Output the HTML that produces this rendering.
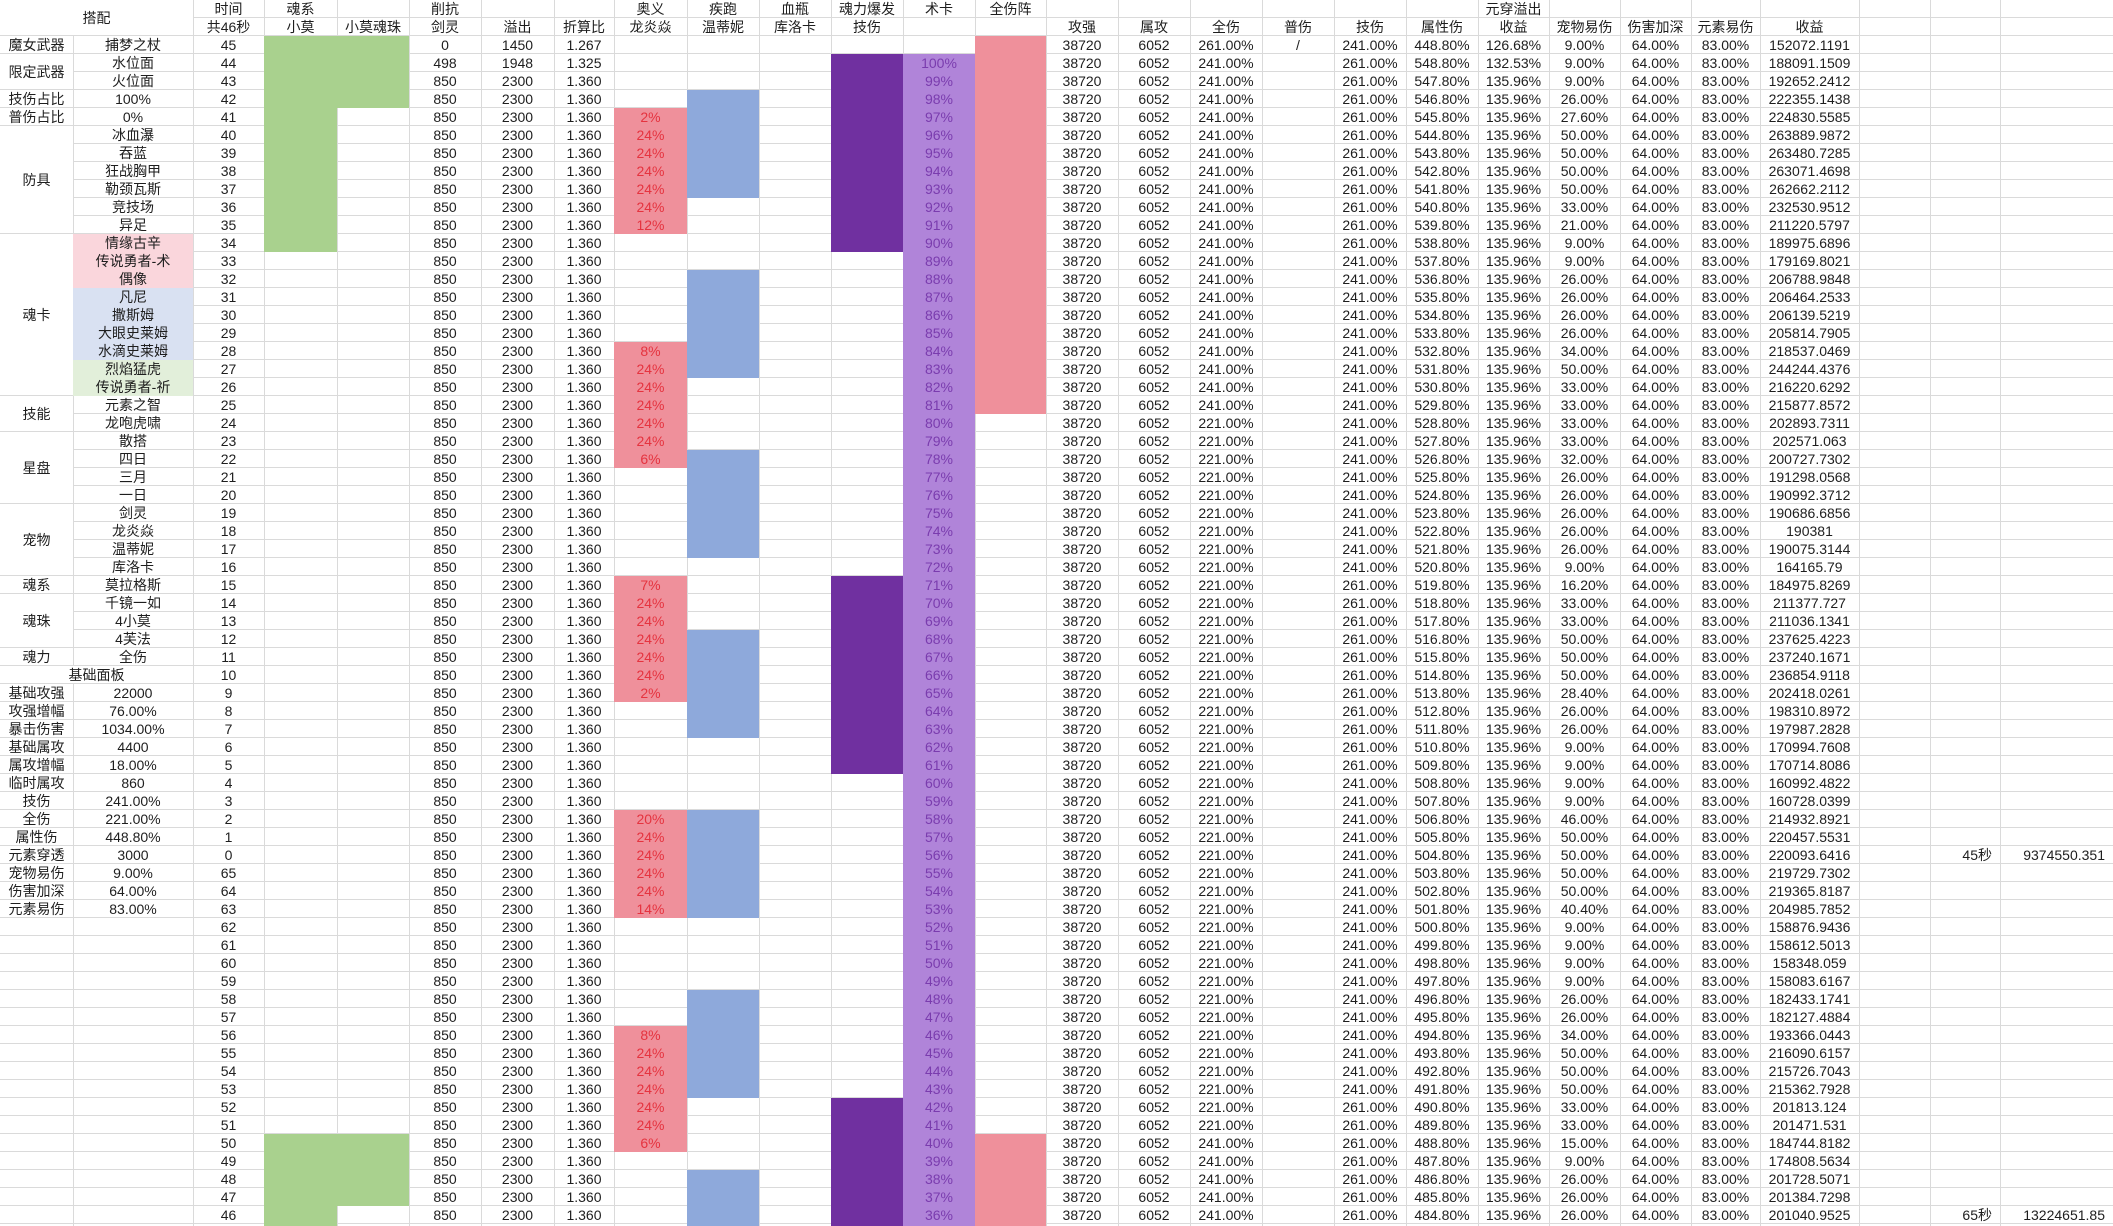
<!DOCTYPE html>
<html><head><meta charset="utf-8">
<style>
html,body{margin:0;padding:0;background:#fff}
#c{position:relative;width:2113px;height:1226px;overflow:hidden;background:#fff;
background-image:repeating-linear-gradient(to bottom,transparent 0,transparent 17px,#dadada 17px,#dadada 18px);
font-family:"Liberation Sans","Noto Sans CJK SC",sans-serif;font-size:14px;color:#1e1e1e}
.v{position:absolute;top:0;width:1px;height:1226px;background:#dadada;z-index:0}
.o{position:absolute;z-index:1}
.w{background:#fff;display:flex;align-items:center;justify-content:center}
table{position:absolute;left:0;top:0;z-index:2;border-spacing:0;border-collapse:separate;table-layout:fixed;width:2113px}
td{height:18px;padding:0;line-height:18px;text-align:center;white-space:nowrap;overflow:hidden}
td.r{color:#e5333f}
td.p{color:#7a3cae}
.rt{text-align:right;padding-right:8px}
</style></head><body>
<div id="c">
<div class="v" style="left:73px"></div><div class="v" style="left:193px"></div><div class="v" style="left:264px"></div><div class="v" style="left:337px"></div><div class="v" style="left:409px"></div><div class="v" style="left:481px"></div><div class="v" style="left:554px"></div><div class="v" style="left:614px"></div><div class="v" style="left:687px"></div><div class="v" style="left:759px"></div><div class="v" style="left:831px"></div><div class="v" style="left:903px"></div><div class="v" style="left:975px"></div><div class="v" style="left:1046px"></div><div class="v" style="left:1118px"></div><div class="v" style="left:1190px"></div><div class="v" style="left:1262px"></div><div class="v" style="left:1334px"></div><div class="v" style="left:1406px"></div><div class="v" style="left:1478px"></div><div class="v" style="left:1549px"></div><div class="v" style="left:1620px"></div><div class="v" style="left:1691px"></div><div class="v" style="left:1760px"></div><div class="v" style="left:1859px"></div><div class="v" style="left:1930px"></div><div class="v" style="left:2000px"></div>

<div class="o w" style="left:0;top:0;width:193px;height:35px">搭配</div>
<div class="o w" style="left:0;top:54px;width:73px;height:35px">限定武器</div>
<div class="o w" style="left:0;top:126px;width:73px;height:107px">防具</div>
<div class="o w" style="left:0;top:234px;width:73px;height:161px">魂卡</div>
<div class="o w" style="left:0;top:396px;width:73px;height:35px">技能</div>
<div class="o w" style="left:0;top:432px;width:73px;height:71px">星盘</div>
<div class="o w" style="left:0;top:504px;width:73px;height:71px">宠物</div>
<div class="o w" style="left:0;top:594px;width:73px;height:53px">魂珠</div>
<div class="o w" style="left:0;top:666px;width:193px;height:17px">基础面板</div>

<div class="o" style="left:73px;top:234px;width:120px;height:54px;background:#fad6dc"></div>
<div class="o" style="left:73px;top:288px;width:120px;height:72px;background:#d9e1f2"></div>
<div class="o" style="left:73px;top:360px;width:120px;height:36px;background:#e2efda"></div>

<div class="o" style="left:264px;top:36px;width:73px;height:216px;background:#a9d18e"></div>
<div class="o" style="left:337px;top:36px;width:72px;height:72px;background:#a9d18e"></div>
<div class="o" style="left:264px;top:1134px;width:73px;height:92px;background:#a9d18e"></div>
<div class="o" style="left:337px;top:1134px;width:72px;height:72px;background:#a9d18e"></div>

<div class="o" style="left:614px;top:108px;width:73px;height:126px;background:#ef909b"></div>
<div class="o" style="left:614px;top:342px;width:73px;height:126px;background:#ef909b"></div>
<div class="o" style="left:614px;top:576px;width:73px;height:126px;background:#ef909b"></div>
<div class="o" style="left:614px;top:810px;width:73px;height:108px;background:#ef909b"></div>
<div class="o" style="left:614px;top:1026px;width:73px;height:126px;background:#ef909b"></div>

<div class="o" style="left:687px;top:90px;width:72px;height:108px;background:#8ea9db"></div>
<div class="o" style="left:687px;top:270px;width:72px;height:108px;background:#8ea9db"></div>
<div class="o" style="left:687px;top:450px;width:72px;height:108px;background:#8ea9db"></div>
<div class="o" style="left:687px;top:630px;width:72px;height:108px;background:#8ea9db"></div>
<div class="o" style="left:687px;top:810px;width:72px;height:108px;background:#8ea9db"></div>
<div class="o" style="left:687px;top:990px;width:72px;height:108px;background:#8ea9db"></div>
<div class="o" style="left:687px;top:1170px;width:72px;height:56px;background:#8ea9db"></div>

<div class="o" style="left:831px;top:54px;width:72px;height:198px;background:#7030a0"></div>
<div class="o" style="left:831px;top:576px;width:72px;height:198px;background:#7030a0"></div>
<div class="o" style="left:831px;top:1098px;width:72px;height:128px;background:#7030a0"></div>

<div class="o" style="left:903px;top:54px;width:72px;height:1172px;background:#b084d9"></div>

<div class="o" style="left:975px;top:36px;width:71px;height:378px;background:#ef909b"></div>
<div class="o" style="left:975px;top:1134px;width:71px;height:92px;background:#ef909b"></div>

<table>
<colgroup><col style="width:73px"><col style="width:120px"><col style="width:71px"><col style="width:73px"><col style="width:72px"><col style="width:72px"><col style="width:73px"><col style="width:60px"><col style="width:73px"><col style="width:72px"><col style="width:72px"><col style="width:72px"><col style="width:72px"><col style="width:71px"><col style="width:72px"><col style="width:72px"><col style="width:72px"><col style="width:72px"><col style="width:72px"><col style="width:72px"><col style="width:71px"><col style="width:71px"><col style="width:71px"><col style="width:69px"><col style="width:99px"><col style="width:71px"><col style="width:70px"><col style="width:113px"></colgroup>
<tr><td><td><td>时间<td>魂系<td><td>削抗<td><td><td>奥义<td>疾跑<td>血瓶<td>魂力爆发<td>术卡<td>全伤阵<td><td><td><td><td><td><td>元穿溢出<td><td><td><td><td><td><td>
<tr><td><td><td>共46秒<td>小莫<td>小莫魂珠<td>剑灵<td>溢出<td>折算比<td>龙炎焱<td>温蒂妮<td>库洛卡<td>技伤<td><td><td>攻强<td>属攻<td>全伤<td>普伤<td>技伤<td>属性伤<td>收益<td>宠物易伤<td>伤害加深<td>元素易伤<td>收益<td><td><td>
<tr><td>魔女武器<td>捕梦之杖<td>45<td><td><td>0<td>1450<td>1.267<td class=r><td><td><td><td class=p><td><td>38720<td>6052<td>261.00%<td>/<td>241.00%<td>448.80%<td>126.68%<td>9.00%<td>64.00%<td>83.00%<td>152072.1191<td><td><td>
<tr><td><td>水位面<td>44<td><td><td>498<td>1948<td>1.325<td class=r><td><td><td><td class=p>100%<td><td>38720<td>6052<td>241.00%<td><td>261.00%<td>548.80%<td>132.53%<td>9.00%<td>64.00%<td>83.00%<td>188091.1509<td><td><td>
<tr><td><td>火位面<td>43<td><td><td>850<td>2300<td>1.360<td class=r><td><td><td><td class=p>99%<td><td>38720<td>6052<td>241.00%<td><td>261.00%<td>547.80%<td>135.96%<td>9.00%<td>64.00%<td>83.00%<td>192652.2412<td><td><td>
<tr><td>技伤占比<td>100%<td>42<td><td><td>850<td>2300<td>1.360<td class=r><td><td><td><td class=p>98%<td><td>38720<td>6052<td>241.00%<td><td>261.00%<td>546.80%<td>135.96%<td>26.00%<td>64.00%<td>83.00%<td>222355.1438<td><td><td>
<tr><td>普伤占比<td>0%<td>41<td><td><td>850<td>2300<td>1.360<td class=r>2%<td><td><td><td class=p>97%<td><td>38720<td>6052<td>241.00%<td><td>261.00%<td>545.80%<td>135.96%<td>27.60%<td>64.00%<td>83.00%<td>224830.5585<td><td><td>
<tr><td><td>冰血瀑<td>40<td><td><td>850<td>2300<td>1.360<td class=r>24%<td><td><td><td class=p>96%<td><td>38720<td>6052<td>241.00%<td><td>261.00%<td>544.80%<td>135.96%<td>50.00%<td>64.00%<td>83.00%<td>263889.9872<td><td><td>
<tr><td><td>吞蓝<td>39<td><td><td>850<td>2300<td>1.360<td class=r>24%<td><td><td><td class=p>95%<td><td>38720<td>6052<td>241.00%<td><td>261.00%<td>543.80%<td>135.96%<td>50.00%<td>64.00%<td>83.00%<td>263480.7285<td><td><td>
<tr><td><td>狂战胸甲<td>38<td><td><td>850<td>2300<td>1.360<td class=r>24%<td><td><td><td class=p>94%<td><td>38720<td>6052<td>241.00%<td><td>261.00%<td>542.80%<td>135.96%<td>50.00%<td>64.00%<td>83.00%<td>263071.4698<td><td><td>
<tr><td><td>勒颈瓦斯<td>37<td><td><td>850<td>2300<td>1.360<td class=r>24%<td><td><td><td class=p>93%<td><td>38720<td>6052<td>241.00%<td><td>261.00%<td>541.80%<td>135.96%<td>50.00%<td>64.00%<td>83.00%<td>262662.2112<td><td><td>
<tr><td><td>竞技场<td>36<td><td><td>850<td>2300<td>1.360<td class=r>24%<td><td><td><td class=p>92%<td><td>38720<td>6052<td>241.00%<td><td>261.00%<td>540.80%<td>135.96%<td>33.00%<td>64.00%<td>83.00%<td>232530.9512<td><td><td>
<tr><td><td>异足<td>35<td><td><td>850<td>2300<td>1.360<td class=r>12%<td><td><td><td class=p>91%<td><td>38720<td>6052<td>241.00%<td><td>261.00%<td>539.80%<td>135.96%<td>21.00%<td>64.00%<td>83.00%<td>211220.5797<td><td><td>
<tr><td><td>情缘古辛<td>34<td><td><td>850<td>2300<td>1.360<td class=r><td><td><td><td class=p>90%<td><td>38720<td>6052<td>241.00%<td><td>261.00%<td>538.80%<td>135.96%<td>9.00%<td>64.00%<td>83.00%<td>189975.6896<td><td><td>
<tr><td><td>传说勇者-术<td>33<td><td><td>850<td>2300<td>1.360<td class=r><td><td><td><td class=p>89%<td><td>38720<td>6052<td>241.00%<td><td>241.00%<td>537.80%<td>135.96%<td>9.00%<td>64.00%<td>83.00%<td>179169.8021<td><td><td>
<tr><td><td>偶像<td>32<td><td><td>850<td>2300<td>1.360<td class=r><td><td><td><td class=p>88%<td><td>38720<td>6052<td>241.00%<td><td>241.00%<td>536.80%<td>135.96%<td>26.00%<td>64.00%<td>83.00%<td>206788.9848<td><td><td>
<tr><td><td>凡尼<td>31<td><td><td>850<td>2300<td>1.360<td class=r><td><td><td><td class=p>87%<td><td>38720<td>6052<td>241.00%<td><td>241.00%<td>535.80%<td>135.96%<td>26.00%<td>64.00%<td>83.00%<td>206464.2533<td><td><td>
<tr><td><td>撒斯姆<td>30<td><td><td>850<td>2300<td>1.360<td class=r><td><td><td><td class=p>86%<td><td>38720<td>6052<td>241.00%<td><td>241.00%<td>534.80%<td>135.96%<td>26.00%<td>64.00%<td>83.00%<td>206139.5219<td><td><td>
<tr><td><td>大眼史莱姆<td>29<td><td><td>850<td>2300<td>1.360<td class=r><td><td><td><td class=p>85%<td><td>38720<td>6052<td>241.00%<td><td>241.00%<td>533.80%<td>135.96%<td>26.00%<td>64.00%<td>83.00%<td>205814.7905<td><td><td>
<tr><td><td>水滴史莱姆<td>28<td><td><td>850<td>2300<td>1.360<td class=r>8%<td><td><td><td class=p>84%<td><td>38720<td>6052<td>241.00%<td><td>241.00%<td>532.80%<td>135.96%<td>34.00%<td>64.00%<td>83.00%<td>218537.0469<td><td><td>
<tr><td><td>烈焰猛虎<td>27<td><td><td>850<td>2300<td>1.360<td class=r>24%<td><td><td><td class=p>83%<td><td>38720<td>6052<td>241.00%<td><td>241.00%<td>531.80%<td>135.96%<td>50.00%<td>64.00%<td>83.00%<td>244244.4376<td><td><td>
<tr><td><td>传说勇者-祈<td>26<td><td><td>850<td>2300<td>1.360<td class=r>24%<td><td><td><td class=p>82%<td><td>38720<td>6052<td>241.00%<td><td>241.00%<td>530.80%<td>135.96%<td>33.00%<td>64.00%<td>83.00%<td>216220.6292<td><td><td>
<tr><td><td>元素之智<td>25<td><td><td>850<td>2300<td>1.360<td class=r>24%<td><td><td><td class=p>81%<td><td>38720<td>6052<td>241.00%<td><td>241.00%<td>529.80%<td>135.96%<td>33.00%<td>64.00%<td>83.00%<td>215877.8572<td><td><td>
<tr><td><td>龙咆虎啸<td>24<td><td><td>850<td>2300<td>1.360<td class=r>24%<td><td><td><td class=p>80%<td><td>38720<td>6052<td>221.00%<td><td>241.00%<td>528.80%<td>135.96%<td>33.00%<td>64.00%<td>83.00%<td>202893.7311<td><td><td>
<tr><td><td>散搭<td>23<td><td><td>850<td>2300<td>1.360<td class=r>24%<td><td><td><td class=p>79%<td><td>38720<td>6052<td>221.00%<td><td>241.00%<td>527.80%<td>135.96%<td>33.00%<td>64.00%<td>83.00%<td>202571.063<td><td><td>
<tr><td><td>四日<td>22<td><td><td>850<td>2300<td>1.360<td class=r>6%<td><td><td><td class=p>78%<td><td>38720<td>6052<td>221.00%<td><td>241.00%<td>526.80%<td>135.96%<td>32.00%<td>64.00%<td>83.00%<td>200727.7302<td><td><td>
<tr><td><td>三月<td>21<td><td><td>850<td>2300<td>1.360<td class=r><td><td><td><td class=p>77%<td><td>38720<td>6052<td>221.00%<td><td>241.00%<td>525.80%<td>135.96%<td>26.00%<td>64.00%<td>83.00%<td>191298.0568<td><td><td>
<tr><td><td>一日<td>20<td><td><td>850<td>2300<td>1.360<td class=r><td><td><td><td class=p>76%<td><td>38720<td>6052<td>221.00%<td><td>241.00%<td>524.80%<td>135.96%<td>26.00%<td>64.00%<td>83.00%<td>190992.3712<td><td><td>
<tr><td><td>剑灵<td>19<td><td><td>850<td>2300<td>1.360<td class=r><td><td><td><td class=p>75%<td><td>38720<td>6052<td>221.00%<td><td>241.00%<td>523.80%<td>135.96%<td>26.00%<td>64.00%<td>83.00%<td>190686.6856<td><td><td>
<tr><td><td>龙炎焱<td>18<td><td><td>850<td>2300<td>1.360<td class=r><td><td><td><td class=p>74%<td><td>38720<td>6052<td>221.00%<td><td>241.00%<td>522.80%<td>135.96%<td>26.00%<td>64.00%<td>83.00%<td>190381<td><td><td>
<tr><td><td>温蒂妮<td>17<td><td><td>850<td>2300<td>1.360<td class=r><td><td><td><td class=p>73%<td><td>38720<td>6052<td>221.00%<td><td>241.00%<td>521.80%<td>135.96%<td>26.00%<td>64.00%<td>83.00%<td>190075.3144<td><td><td>
<tr><td><td>库洛卡<td>16<td><td><td>850<td>2300<td>1.360<td class=r><td><td><td><td class=p>72%<td><td>38720<td>6052<td>221.00%<td><td>241.00%<td>520.80%<td>135.96%<td>9.00%<td>64.00%<td>83.00%<td>164165.79<td><td><td>
<tr><td>魂系<td>莫拉格斯<td>15<td><td><td>850<td>2300<td>1.360<td class=r>7%<td><td><td><td class=p>71%<td><td>38720<td>6052<td>221.00%<td><td>261.00%<td>519.80%<td>135.96%<td>16.20%<td>64.00%<td>83.00%<td>184975.8269<td><td><td>
<tr><td><td>千镜一如<td>14<td><td><td>850<td>2300<td>1.360<td class=r>24%<td><td><td><td class=p>70%<td><td>38720<td>6052<td>221.00%<td><td>261.00%<td>518.80%<td>135.96%<td>33.00%<td>64.00%<td>83.00%<td>211377.727<td><td><td>
<tr><td><td>4小莫<td>13<td><td><td>850<td>2300<td>1.360<td class=r>24%<td><td><td><td class=p>69%<td><td>38720<td>6052<td>221.00%<td><td>261.00%<td>517.80%<td>135.96%<td>33.00%<td>64.00%<td>83.00%<td>211036.1341<td><td><td>
<tr><td><td>4芙法<td>12<td><td><td>850<td>2300<td>1.360<td class=r>24%<td><td><td><td class=p>68%<td><td>38720<td>6052<td>221.00%<td><td>261.00%<td>516.80%<td>135.96%<td>50.00%<td>64.00%<td>83.00%<td>237625.4223<td><td><td>
<tr><td>魂力<td>全伤<td>11<td><td><td>850<td>2300<td>1.360<td class=r>24%<td><td><td><td class=p>67%<td><td>38720<td>6052<td>221.00%<td><td>261.00%<td>515.80%<td>135.96%<td>50.00%<td>64.00%<td>83.00%<td>237240.1671<td><td><td>
<tr><td><td><td>10<td><td><td>850<td>2300<td>1.360<td class=r>24%<td><td><td><td class=p>66%<td><td>38720<td>6052<td>221.00%<td><td>261.00%<td>514.80%<td>135.96%<td>50.00%<td>64.00%<td>83.00%<td>236854.9118<td><td><td>
<tr><td>基础攻强<td>22000<td>9<td><td><td>850<td>2300<td>1.360<td class=r>2%<td><td><td><td class=p>65%<td><td>38720<td>6052<td>221.00%<td><td>261.00%<td>513.80%<td>135.96%<td>28.40%<td>64.00%<td>83.00%<td>202418.0261<td><td><td>
<tr><td>攻强增幅<td>76.00%<td>8<td><td><td>850<td>2300<td>1.360<td class=r><td><td><td><td class=p>64%<td><td>38720<td>6052<td>221.00%<td><td>261.00%<td>512.80%<td>135.96%<td>26.00%<td>64.00%<td>83.00%<td>198310.8972<td><td><td>
<tr><td>暴击伤害<td>1034.00%<td>7<td><td><td>850<td>2300<td>1.360<td class=r><td><td><td><td class=p>63%<td><td>38720<td>6052<td>221.00%<td><td>261.00%<td>511.80%<td>135.96%<td>26.00%<td>64.00%<td>83.00%<td>197987.2828<td><td><td>
<tr><td>基础属攻<td>4400<td>6<td><td><td>850<td>2300<td>1.360<td class=r><td><td><td><td class=p>62%<td><td>38720<td>6052<td>221.00%<td><td>261.00%<td>510.80%<td>135.96%<td>9.00%<td>64.00%<td>83.00%<td>170994.7608<td><td><td>
<tr><td>属攻增幅<td>18.00%<td>5<td><td><td>850<td>2300<td>1.360<td class=r><td><td><td><td class=p>61%<td><td>38720<td>6052<td>221.00%<td><td>261.00%<td>509.80%<td>135.96%<td>9.00%<td>64.00%<td>83.00%<td>170714.8086<td><td><td>
<tr><td>临时属攻<td>860<td>4<td><td><td>850<td>2300<td>1.360<td class=r><td><td><td><td class=p>60%<td><td>38720<td>6052<td>221.00%<td><td>241.00%<td>508.80%<td>135.96%<td>9.00%<td>64.00%<td>83.00%<td>160992.4822<td><td><td>
<tr><td>技伤<td>241.00%<td>3<td><td><td>850<td>2300<td>1.360<td class=r><td><td><td><td class=p>59%<td><td>38720<td>6052<td>221.00%<td><td>241.00%<td>507.80%<td>135.96%<td>9.00%<td>64.00%<td>83.00%<td>160728.0399<td><td><td>
<tr><td>全伤<td>221.00%<td>2<td><td><td>850<td>2300<td>1.360<td class=r>20%<td><td><td><td class=p>58%<td><td>38720<td>6052<td>221.00%<td><td>241.00%<td>506.80%<td>135.96%<td>46.00%<td>64.00%<td>83.00%<td>214932.8921<td><td><td>
<tr><td>属性伤<td>448.80%<td>1<td><td><td>850<td>2300<td>1.360<td class=r>24%<td><td><td><td class=p>57%<td><td>38720<td>6052<td>221.00%<td><td>241.00%<td>505.80%<td>135.96%<td>50.00%<td>64.00%<td>83.00%<td>220457.5531<td><td><td>
<tr><td>元素穿透<td>3000<td>0<td><td><td>850<td>2300<td>1.360<td class=r>24%<td><td><td><td class=p>56%<td><td>38720<td>6052<td>221.00%<td><td>241.00%<td>504.80%<td>135.96%<td>50.00%<td>64.00%<td>83.00%<td>220093.6416<td><td class=rt>45秒<td class=rt>9374550.351
<tr><td>宠物易伤<td>9.00%<td>65<td><td><td>850<td>2300<td>1.360<td class=r>24%<td><td><td><td class=p>55%<td><td>38720<td>6052<td>221.00%<td><td>241.00%<td>503.80%<td>135.96%<td>50.00%<td>64.00%<td>83.00%<td>219729.7302<td><td><td>
<tr><td>伤害加深<td>64.00%<td>64<td><td><td>850<td>2300<td>1.360<td class=r>24%<td><td><td><td class=p>54%<td><td>38720<td>6052<td>221.00%<td><td>241.00%<td>502.80%<td>135.96%<td>50.00%<td>64.00%<td>83.00%<td>219365.8187<td><td><td>
<tr><td>元素易伤<td>83.00%<td>63<td><td><td>850<td>2300<td>1.360<td class=r>14%<td><td><td><td class=p>53%<td><td>38720<td>6052<td>221.00%<td><td>241.00%<td>501.80%<td>135.96%<td>40.40%<td>64.00%<td>83.00%<td>204985.7852<td><td><td>
<tr><td><td><td>62<td><td><td>850<td>2300<td>1.360<td class=r><td><td><td><td class=p>52%<td><td>38720<td>6052<td>221.00%<td><td>241.00%<td>500.80%<td>135.96%<td>9.00%<td>64.00%<td>83.00%<td>158876.9436<td><td><td>
<tr><td><td><td>61<td><td><td>850<td>2300<td>1.360<td class=r><td><td><td><td class=p>51%<td><td>38720<td>6052<td>221.00%<td><td>241.00%<td>499.80%<td>135.96%<td>9.00%<td>64.00%<td>83.00%<td>158612.5013<td><td><td>
<tr><td><td><td>60<td><td><td>850<td>2300<td>1.360<td class=r><td><td><td><td class=p>50%<td><td>38720<td>6052<td>221.00%<td><td>241.00%<td>498.80%<td>135.96%<td>9.00%<td>64.00%<td>83.00%<td>158348.059<td><td><td>
<tr><td><td><td>59<td><td><td>850<td>2300<td>1.360<td class=r><td><td><td><td class=p>49%<td><td>38720<td>6052<td>221.00%<td><td>241.00%<td>497.80%<td>135.96%<td>9.00%<td>64.00%<td>83.00%<td>158083.6167<td><td><td>
<tr><td><td><td>58<td><td><td>850<td>2300<td>1.360<td class=r><td><td><td><td class=p>48%<td><td>38720<td>6052<td>221.00%<td><td>241.00%<td>496.80%<td>135.96%<td>26.00%<td>64.00%<td>83.00%<td>182433.1741<td><td><td>
<tr><td><td><td>57<td><td><td>850<td>2300<td>1.360<td class=r><td><td><td><td class=p>47%<td><td>38720<td>6052<td>221.00%<td><td>241.00%<td>495.80%<td>135.96%<td>26.00%<td>64.00%<td>83.00%<td>182127.4884<td><td><td>
<tr><td><td><td>56<td><td><td>850<td>2300<td>1.360<td class=r>8%<td><td><td><td class=p>46%<td><td>38720<td>6052<td>221.00%<td><td>241.00%<td>494.80%<td>135.96%<td>34.00%<td>64.00%<td>83.00%<td>193366.0443<td><td><td>
<tr><td><td><td>55<td><td><td>850<td>2300<td>1.360<td class=r>24%<td><td><td><td class=p>45%<td><td>38720<td>6052<td>221.00%<td><td>241.00%<td>493.80%<td>135.96%<td>50.00%<td>64.00%<td>83.00%<td>216090.6157<td><td><td>
<tr><td><td><td>54<td><td><td>850<td>2300<td>1.360<td class=r>24%<td><td><td><td class=p>44%<td><td>38720<td>6052<td>221.00%<td><td>241.00%<td>492.80%<td>135.96%<td>50.00%<td>64.00%<td>83.00%<td>215726.7043<td><td><td>
<tr><td><td><td>53<td><td><td>850<td>2300<td>1.360<td class=r>24%<td><td><td><td class=p>43%<td><td>38720<td>6052<td>221.00%<td><td>241.00%<td>491.80%<td>135.96%<td>50.00%<td>64.00%<td>83.00%<td>215362.7928<td><td><td>
<tr><td><td><td>52<td><td><td>850<td>2300<td>1.360<td class=r>24%<td><td><td><td class=p>42%<td><td>38720<td>6052<td>221.00%<td><td>261.00%<td>490.80%<td>135.96%<td>33.00%<td>64.00%<td>83.00%<td>201813.124<td><td><td>
<tr><td><td><td>51<td><td><td>850<td>2300<td>1.360<td class=r>24%<td><td><td><td class=p>41%<td><td>38720<td>6052<td>221.00%<td><td>261.00%<td>489.80%<td>135.96%<td>33.00%<td>64.00%<td>83.00%<td>201471.531<td><td><td>
<tr><td><td><td>50<td><td><td>850<td>2300<td>1.360<td class=r>6%<td><td><td><td class=p>40%<td><td>38720<td>6052<td>241.00%<td><td>261.00%<td>488.80%<td>135.96%<td>15.00%<td>64.00%<td>83.00%<td>184744.8182<td><td><td>
<tr><td><td><td>49<td><td><td>850<td>2300<td>1.360<td class=r><td><td><td><td class=p>39%<td><td>38720<td>6052<td>241.00%<td><td>261.00%<td>487.80%<td>135.96%<td>9.00%<td>64.00%<td>83.00%<td>174808.5634<td><td><td>
<tr><td><td><td>48<td><td><td>850<td>2300<td>1.360<td class=r><td><td><td><td class=p>38%<td><td>38720<td>6052<td>241.00%<td><td>261.00%<td>486.80%<td>135.96%<td>26.00%<td>64.00%<td>83.00%<td>201728.5071<td><td><td>
<tr><td><td><td>47<td><td><td>850<td>2300<td>1.360<td class=r><td><td><td><td class=p>37%<td><td>38720<td>6052<td>241.00%<td><td>261.00%<td>485.80%<td>135.96%<td>26.00%<td>64.00%<td>83.00%<td>201384.7298<td><td><td>
<tr><td><td><td>46<td><td><td>850<td>2300<td>1.360<td class=r><td><td><td><td class=p>36%<td><td>38720<td>6052<td>241.00%<td><td>261.00%<td>484.80%<td>135.96%<td>26.00%<td>64.00%<td>83.00%<td>201040.9525<td><td class=rt>65秒<td class=rt>13224651.85
</table>
</div>
</body></html>
